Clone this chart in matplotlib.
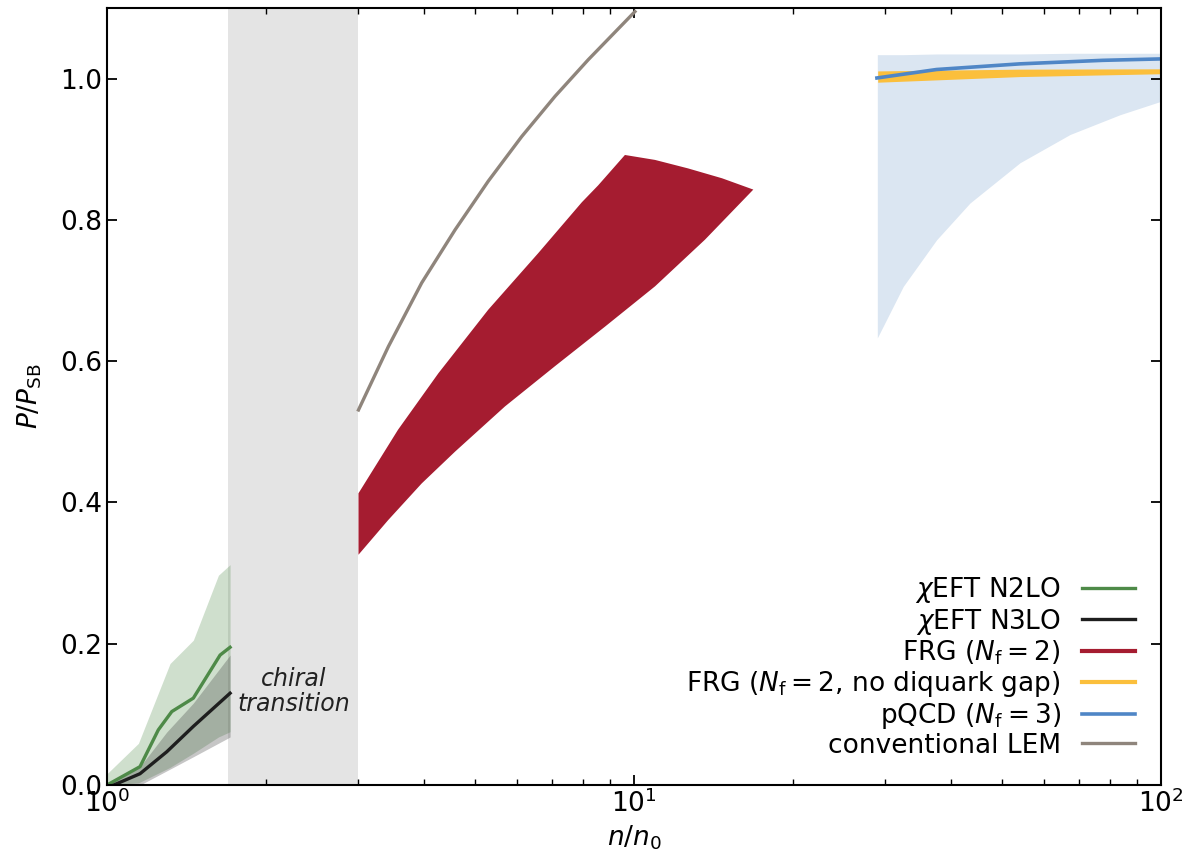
import numpy as np
import matplotlib
matplotlib.use("Agg")
import matplotlib.pyplot as plt

# chiEFT N2LO: central line and band
n2lo_n = [1.0, 1.155, 1.251, 1.327, 1.458, 1.639, 1.712]
n2lo_p = [0.0, 0.026, 0.078, 0.104, 0.123, 0.184, 0.195]
n2lo_band_n = [1.0, 1.147, 1.317, 1.458, 1.627, 1.712]
n2lo_band_lo = [0.0, 0.003, 0.025, 0.045, 0.068, 0.0755]
n2lo_band_hi = [0.016, 0.059, 0.172, 0.205, 0.297, 0.312]

# chiEFT N3LO: central line and band
n3lo_n = [1.03, 1.155, 1.298, 1.458, 1.712]
n3lo_p = [0.0, 0.016, 0.047, 0.083, 0.130]
n3lo_band_n = [1.0, 1.155, 1.298, 1.458, 1.712]
n3lo_band_lo = [0.0, 0.0, 0.02, 0.040, 0.068]
n3lo_band_hi = [0.0, 0.026, 0.075, 0.116, 0.184]

# FRG (Nf=2) band: upper edge, then lower edge (both end at the same tip)
frg_hi_n = [3.0, 3.566, 4.254, 5.29, 6.58, 7.96, 8.55, 9.61, 10.96, 12.66, 14.69, 16.84]
frg_hi_p = [0.413, 0.503, 0.583, 0.673, 0.753, 0.825, 0.849, 0.892, 0.885, 0.873, 0.859, 0.843]
frg_lo_n = [3.0, 3.415, 3.955, 4.575, 5.69, 7.08, 8.81, 10.96, 13.63, 16.84]
frg_lo_p = [0.326, 0.375, 0.427, 0.472, 0.536, 0.593, 0.649, 0.706, 0.772, 0.843]

# FRG (Nf=2, no diquark gap)
nodq_n = [29.0, 54.0, 100.0]
nodq_lo = [0.995, 1.003, 1.007]
nodq_hi = [1.011, 1.0135, 1.014]

# pQCD (Nf=3): central line and band
pqcd_n = [28.9, 37.5, 54.0, 77.6, 100.0]
pqcd_p = [1.001, 1.013, 1.021, 1.026, 1.028]
pqcd_band_n = [28.95, 32.43, 37.52, 43.4, 54.0, 67.2, 83.6, 100.0]
pqcd_band_lo = [0.633, 0.706, 0.772, 0.824, 0.881, 0.921, 0.949, 0.968]
pqcd_band_hi = [1.034, 1.034, 1.035, 1.035, 1.035, 1.036, 1.036, 1.036]

# conventional LEM
lem_n = [3.0, 3.42, 3.955, 4.575, 5.29, 6.12, 7.08, 8.19, 10.04]
lem_p = [0.531, 0.621, 0.711, 0.786, 0.855, 0.918, 0.975, 1.027, 1.095]

chiral = (1.7, 3.0)

GREEN = "#4e8a48"
BLACK = "#1e1e1e"
RED = "#a51c30"
YELLOW = "#fbbf3c"
BLUE = "#4f86c6"
GREY = "#8f857c"

plt.rcParams["mathtext.fontset"] = "dejavusans"

fig = plt.figure(figsize=(11.84, 8.57), dpi=100)
ax = fig.add_axes([0.0904, 0.084, 0.8902, 0.9066])

ax.axvspan(*chiral, color="#e4e4e4", lw=0, zorder=0)
ax.text(np.sqrt(chiral[0] * chiral[1]), 0.132, "chiral\ntransition", style="italic",
        ha="center", va="center", fontsize=17, linespacing=1.05, color="#222222")

ax.fill_between(n2lo_band_n, n2lo_band_lo, n2lo_band_hi, color=GREEN, alpha=0.27, lw=0)
ax.fill_between(n3lo_band_n, n3lo_band_lo, n3lo_band_hi, color="#333333", alpha=0.28, lw=0)
ax.plot(n2lo_n, n2lo_p, color=GREEN, lw=2.4, label=r"$\chi$EFT N2LO")
ax.plot(n3lo_n, n3lo_p, color=BLACK, lw=2.4, label=r"$\chi$EFT N3LO")

ax.fill(frg_hi_n + frg_lo_n[::-1], frg_hi_p + frg_lo_p[::-1], color=RED, lw=0)
ax.plot([], [], color=RED, lw=3, label=r"FRG ($N_{\rm f}=2$)")

ax.fill_between(pqcd_band_n, pqcd_band_lo, pqcd_band_hi, color="#dbe6f2", lw=0)
ax.fill_between(nodq_n, nodq_lo, nodq_hi, color=YELLOW, lw=0)
ax.plot([], [], color=YELLOW, lw=3, label=r"FRG ($N_{\rm f}=2$, no diquark gap)")
ax.plot(pqcd_n, pqcd_p, color=BLUE, lw=2.6, label=r"pQCD ($N_{\rm f}=3$)")

ax.plot(lem_n, lem_p, color=GREY, lw=2.4, label="conventional LEM")

ax.set_xscale("log")
ax.set_xlim(1, 100)
ax.set_ylim(0, 1.1)
ax.set_yticks([0.0, 0.2, 0.4, 0.6, 0.8, 1.0])
ax.set_xlabel(r"$n/n_0$", fontsize=19)
ax.set_ylabel(r"$P/P_{\rm SB}$", fontsize=19, labelpad=12)
ax.tick_params(which="both", direction="in", top=True, right=True, labelsize=19)
ax.tick_params(which="major", length=7, width=1.3)
ax.tick_params(which="minor", length=4, width=1.0)
for s in ax.spines.values():
    s.set_linewidth(1.5)

ax.legend(loc="lower right", frameon=False, markerfirst=False, fontsize=19,
          handlelength=2.0, handletextpad=0.8, labelspacing=0.07, borderaxespad=0.6)

fig.savefig("out.png", dpi=100)
